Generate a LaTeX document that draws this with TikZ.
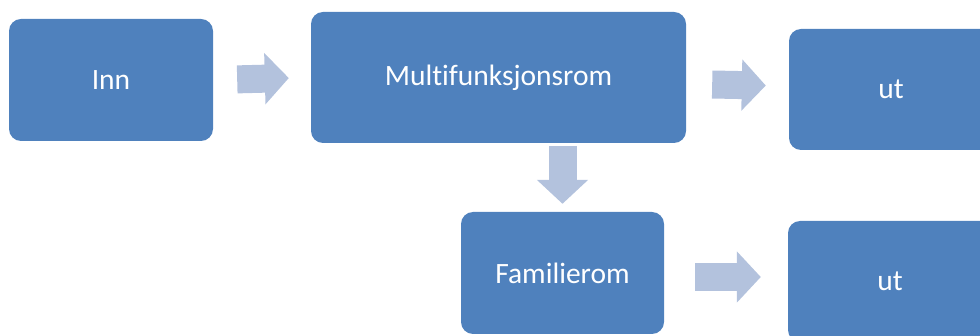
\documentclass[tikz,border=0pt]{standalone}
\usepackage{fontspec}
\setmainfont[Ligatures=NoCommon]{Carlito}
\usepackage{tikz}
\usetikzlibrary{arrows.meta,positioning,calc}
\definecolor{boxblue}{HTML}{4F81BD}
\definecolor{arrowblue}{HTML}{B3C2DD}
\tikzstyle{room} = [rectangle,rounded corners=12pt,fill=boxblue,text=white,font=\fontsize{29.5}{35}\selectfont,inner sep=0pt]
\tikzstyle{blockarrow} = [draw=arrowblue,line width=28pt,-{Triangle[length=24pt,width=50pt]}]

\begin{document}
\begin{tikzpicture}[x=1pt,y=-1pt]
    \useasboundingbox (0,0) rectangle (980,336);
    \clip (0,0) rectangle (980,336);
    \node [room,minimum width=204pt,minimum height=122pt] (inn) at (111,80) {Inn};
    \node [room,minimum width=375pt,minimum height=131pt] (multi) at (498.5,77.5) {Multifunksjonsrom};
    \node [room,minimum width=204pt,minimum height=121pt] (ut1) at (891,89.5) {ut};
    \node [room,minimum width=203pt,minimum height=122pt] (fam) at (562.5,273) {Familierom};
    \node [room,minimum width=204pt,minimum height=121pt] (ut2) at (890,281.5) {ut};
    \draw [blockarrow,shorten <=24pt,shorten >=22pt] (inn.east) -- (multi.west);
    \draw [blockarrow,shorten <=26pt,shorten >=23pt] ([yshift=-6.5pt]multi.east) -- ([yshift=3.5pt]ut1.west);
    \draw [blockarrow,shorten <=3pt,shorten >=8pt] (multi.south -| fam.north) -- (fam.north);
    \draw [blockarrow,shorten <=31pt,shorten >=27pt] ([yshift=-4pt]fam.east) -- ([yshift=4.5pt]ut2.west);
\end{tikzpicture}
\end{document}
